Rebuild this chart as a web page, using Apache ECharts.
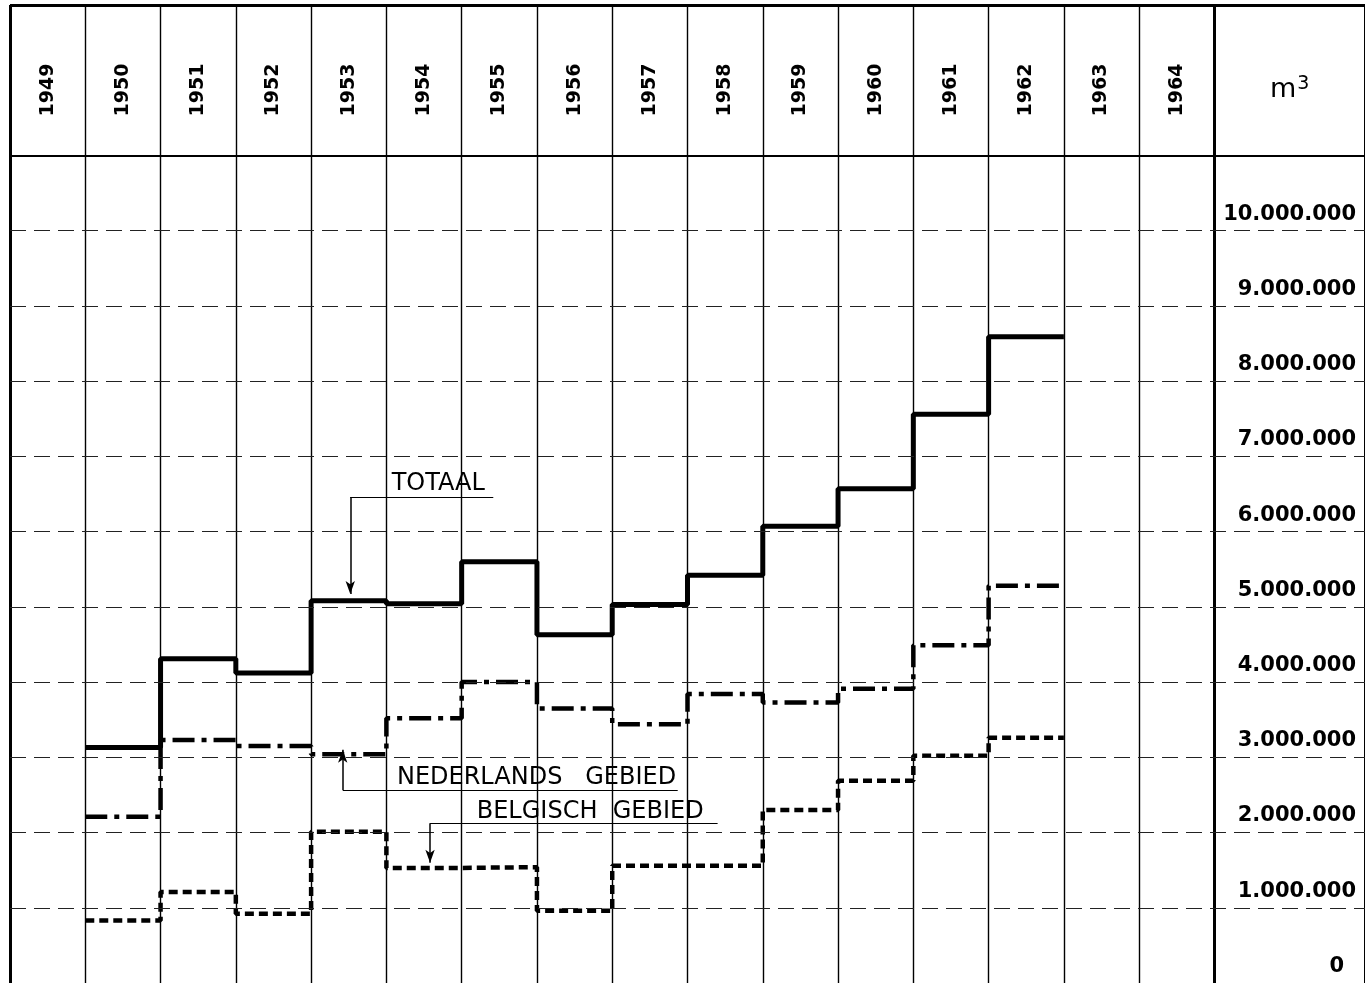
<!DOCTYPE html>
<html>
<head>
<meta charset="utf-8">
<script src="https://cdn.jsdelivr.net/npm/echarts@6/dist/echarts.min.js"></script>
<style>
html,body{margin:0;padding:0;background:#ffffff;}
#chart{width:1365px;height:983px;}
</style>
</head>
<body>
<div id="chart"></div>
<script>
// ---- data (values in m3) ----
const years = [1949,1950,1951,1952,1953,1954,1955,1956,1957,1958,1959,1960,1961,1962,1963,1964];
const dataYears = [1950,1951,1952,1953,1954,1955,1956,1957,1958,1959,1960,1961,1962];
const totaal     = [3130000,4310000,4120000,5080000,5040000,5600000,4630000,5030000,5420000,6070000,6570000,7560000,8590000];
const nederlands = [2210000,3230000,3150000,3040000,3520000,4000000,3650000,3440000,3840000,3730000,3910000,4490000,5280000];
const belgisch   = [ 830000,1210000, 920000,2010000,1530000,1540000, 960000,1560000,1560000,2300000,2690000,3020000,3260000];
const yTicks = [0,1000000,2000000,3000000,4000000,5000000,6000000,7000000,8000000,9000000,10000000];
const unitLabel = 'm3';
const labels = {totaal:'TOTAAL', nederlands:'NEDERLANDS   GEBIED', belgisch:'BELGISCH  GEBIED'};

// ---- layout constants (axis units) ----
const yMax = 13000000;        // top border of the header
const headerBottom = 11000000;
const headerLabelY = 11870000;
const nCols = years.length;   // 16 year columns
const xMax = nCols + 2;       // plus the double-width m3 column

const FONT = 'DejaVu Sans';

function fmt(v){ return String(v).replace(/\B(?=(\d{3})+(?!\d))/g,'.'); }

function stepData(vals){
  const pts = dataYears.map((y,i)=>[y - years[0], vals[i]]);
  const last = pts[pts.length-1];
  pts.push([last[0]+1, last[1]]);
  return pts;
}

// frame lines
const frameLines = [];
for (let i = 0; i <= nCols; i++) {
  const heavy = (i === 0 || i === nCols);
  frameLines.push({xAxis: i, lineStyle:{color:'#000', width: heavy ? 3 : 1.4, type:'solid'}});
}
frameLines.push({xAxis: xMax, lineStyle:{color:'#000', width: 3, type:'solid'}});
yTicks.filter(v => v > 0).forEach(v => {
  frameLines.push({yAxis: v, lineStyle:{color:'#222', width: 1, type:[16,8]}});
});
frameLines.push({yAxis: headerBottom, lineStyle:{color:'#000', width: 2, type:'solid'}});
frameLines.push({yAxis: yMax, lineStyle:{color:'#000', width: 3, type:'solid'}});

// annotation geometry in axis units
const xu = (yr, frac) => yr - years[0] + frac;
const annText = [
  {value:[xu(1954,0.07), 6640000], name: labels.totaal},
  {value:[xu(1954,0.14), 2730000], name: labels.nederlands},
  {value:[xu(1955,0.20), 2280000], name: labels.belgisch}
];
const annUnder = [
  [{coord:[xu(1953,0.52), 6460000]}, {coord:[xu(1955,0.42), 6460000]}],
  [{coord:[xu(1953,0.42), 2565000]}, {coord:[xu(1957,0.87), 2565000]}],
  [{coord:[xu(1954,0.58), 2125000]}, {coord:[xu(1958,0.40), 2125000]}]
];
const annArrows = [
  [{coord:[xu(1953,0.52), 6460000]}, {coord:[xu(1953,0.52), 5170000]}],
  [{coord:[xu(1953,0.42), 2565000]}, {coord:[xu(1953,0.42), 3100000]}],
  [{coord:[xu(1954,0.58), 2125000]}, {coord:[xu(1954,0.58), 1600000]}]
];

const chart = echarts.init(document.getElementById('chart'), null, {renderer:'canvas'});
chart.setOption({
  animation: false,
  backgroundColor: '#ffffff',
  grid: {left: 10, right: 0, top: 5, bottom: -6, containLabel: false},
  xAxis: {type:'value', min:0, max:xMax, show:false},
  yAxis: {
    type:'value', min:0, max:yMax, interval:1000000, position:'right',
    axisLine:{show:false}, axisTick:{show:false}, splitLine:{show:false},
    axisLabel:{
      inside:true, margin:9, color:'#000', fontFamily:FONT, fontSize:21, fontWeight:'bold',
      verticalAlign:'bottom', padding:[0,0,6,0],
      formatter: v => v === 0 ? '{z|0}' : (v <= yTicks[yTicks.length-1] ? fmt(v) : ''),
      rich:{z:{fontFamily:FONT, fontSize:21, fontWeight:'bold', color:'#000', padding:[0,12,0,0]}}
    }
  },
  series: [
    {type:'line', name:'frame', data:[], z:1, silent:true,
     markLine:{silent:true, symbol:'none', label:{show:false}, animation:false, data: frameLines}},
    {type:'scatter', name:'years', z:2, silent:true, symbolSize:0, itemStyle:{opacity:1},
     data: years.map((y,i)=>({value:[i+0.5, headerLabelY], name:String(y)})),
     label:{show:true, position:'inside', formatter:'{b}', rotate:90, color:'#000', opacity:1,
            fontFamily:FONT, fontSize:19, fontWeight:'bold', align:'center', verticalAlign:'middle'}},
    {type:'scatter', name:'unit', z:2, silent:true, symbolSize:0, itemStyle:{opacity:1},
     data:[{value:[nCols+1, headerLabelY], name:unitLabel}],
     label:{show:true, position:'inside', formatter:'{m|m}{s|3}', color:'#000', opacity:1,
            rich:{m:{fontFamily:FONT, fontSize:27, lineHeight:30, color:'#000'},
                  s:{fontFamily:FONT, fontSize:19, lineHeight:30, verticalAlign:'top', color:'#000', padding:[0,0,16,1]}}}},
    {type:'line', name:'Belgisch gebied', step:'end', data: stepData(belgisch), z:3,
     symbol:'none', lineStyle:{color:'#000', width:4.5, type:[9,5]}},
    {type:'line', name:'Nederlands gebied', step:'end', data: stepData(nederlands), z:3,
     symbol:'none', lineStyle:{color:'#000', width:4.5, type:[22,7,5,7]}},
    {type:'line', name:'Totaal', step:'end', data: stepData(totaal), z:4,
     symbol:'none', lineStyle:{color:'#000', width:5, type:'solid'}},
    {type:'scatter', name:'annotations', z:5, silent:true, symbolSize:0, itemStyle:{opacity:1}, data: annText,
     label:{show:true, position:'inside', formatter:'{b}', align:'left', verticalAlign:'middle', opacity:1,
            color:'#000', fontFamily:FONT, fontSize:24},
     markLine:{silent:true, symbol:'none', label:{show:false}, animation:false,
               lineStyle:{color:'#000', width:1.2, type:'solid', opacity:1}, data: annUnder}},
    {type:'line', name:'arrows', data:[], z:5, silent:true,
     markLine:{silent:true, symbol:['none','arrow'], symbolSize:[7,13], label:{show:false}, animation:false,
               lineStyle:{color:'#000', width:1.5, type:'solid'}, data: annArrows}}
  ]
});
</script>
</body>
</html>
